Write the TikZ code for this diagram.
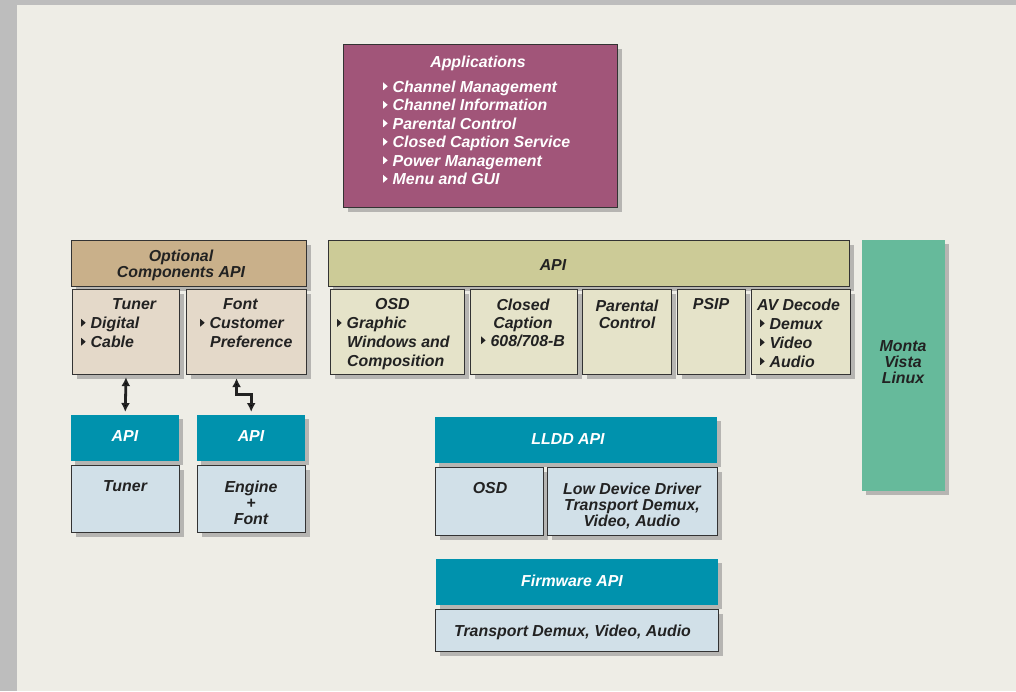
\documentclass[tikz,border=0pt]{standalone}
\usepackage{fontspec}
\setmainfont{Liberation Sans}
\usetikzlibrary{shadows,arrows.meta}

\definecolor{bgpanel}{HTML}{EEEDE6}
\definecolor{bgedge}{HTML}{BDBDBD}
\definecolor{appfill}{HTML}{A15579}
\definecolor{optfill}{HTML}{C9B08A}
\definecolor{optsub}{HTML}{E4D9C9}
\definecolor{apifill}{HTML}{CCCB97}
\definecolor{apisub}{HTML}{E5E3C9}
\definecolor{tealfill}{HTML}{0092AD}
\definecolor{drvfill}{HTML}{D1E0E8}
\definecolor{linuxfill}{HTML}{66BA9B}
\definecolor{boxline}{HTML}{333333}
\definecolor{darktext}{HTML}{222222}

% small bullet triangle
\newcommand\tri{\tikz[x=1pt,y=1pt,baseline=0pt]\fill (0,1.8) -- (0,9.6) -- (4.5,5.7) -- cycle;\hspace{5pt}}

\begin{document}
\begin{tikzpicture}[x=1pt, y=-1pt,
	box/.style={draw=boxline, line width=1.1pt, anchor=north west, inner sep=0pt,
		drop shadow={shadow xshift=4pt, shadow yshift=-4pt, fill=black!55, opacity=0.45}},
	flat/.style={anchor=north west, inner sep=0pt,
		drop shadow={shadow xshift=4pt, shadow yshift=-4pt, fill=black!55, opacity=0.45}},
	txt/.style={inner sep=0pt, text=darktext, font=\bfseries\itshape\fontsize{15.9}{19}\selectfont},
	wtxt/.style={txt, text=white},
	conn/.style={draw=darktext, line width=2.8pt, {Latex[length=9pt,width=9pt]}-{Latex[length=9pt,width=9pt]}}]
	\useasboundingbox (0,0) rectangle (1016,691);
	\fill[bgedge] (0,0) rectangle (1016,691);
	\fill[bgpanel] (17,5) rectangle (1016,691);

	% applications
	\node[box, fill=appfill, minimum width=274, minimum height=163] (apps) at (343,44) {};
	\node[wtxt, anchor=base] (tapps) at (478,67.6) {Applications};
	\node[wtxt, anchor=north west, align=left, font=\bfseries\itshape\fontsize{15.9}{18.5}\selectfont] (tappsitems) at (383,80.3)
		{\tri Channel Management\\ \tri Channel Information\\ \tri Parental Control\\
		 \tri Closed Caption Service\\ \tri Power Management\\ \tri Menu and GUI};

	% optional components
	\node[box, fill=optfill, minimum width=235, minimum height=46] (optapi) at (71,240) {};
	\node[txt, anchor=north, align=center, font=\bfseries\itshape\fontsize{15.9}{16}\selectfont] (toptapi) at (181,249.3) {Optional\\Components API};
	\node[box, fill=optsub, minimum width=107, minimum height=85] (tunerbox) at (72,289) {};
	\node[txt, anchor=north west, align=left] (ttuner) at (81,298.3) {\hspace*{31pt}Tuner\\ \tri Digital\\ \tri Cable};
	\node[box, fill=optsub, minimum width=120, minimum height=85] (fontbox) at (186,289) {};
	\node[txt, anchor=north west, align=left] (tfont) at (200,298.3) {\hspace*{23pt}Font\\ \tri Customer\\ \hspace*{10pt}Preference};

	\node[flat, fill=tealfill, minimum width=108, minimum height=46] (tunerapi) at (71,415) {};
	\node[wtxt, anchor=base] (ttunerapi) at (125,441.6) {API};
	\node[flat, fill=tealfill, minimum width=108, minimum height=46] (fontapi) at (197,415) {};
	\node[wtxt, anchor=base] (tfontapi) at (251,441.6) {API};
	\node[box, fill=drvfill, minimum width=108, minimum height=67] (tunerdrv) at (71,465) {};
	\node[txt, anchor=base] (ttunerdrv) at (125,491.6) {Tuner};
	\node[box, fill=drvfill, minimum width=108, minimum height=67] (enginedrv) at (197,465) {};
	\node[txt, anchor=north, align=center, font=\bfseries\itshape\fontsize{15.9}{16}\selectfont] (tengine) at (251,480.3) {Engine\\+\\Font};

	\draw[conn, shorten <=2pt, shorten >=3pt] (tunerbox.south) -- (tunerapi.north);
	\draw[conn, shorten <=3pt, shorten >=3pt] ([xshift=-10pt]fontbox.south) -- ++(0,19) -| (fontapi.north);

	% middleware api
	\node[box, fill=apifill, minimum width=521, minimum height=46] (api) at (328,240) {};
	\node[txt, anchor=base] (tapi) at (553,270.6) {API};
	\node[box, fill=apisub, minimum width=134, minimum height=85] (osd) at (330,289) {};
	\node[txt, anchor=north west, align=left] (tosd) at (337,298.3)
		{\hspace*{38pt}OSD\\ \tri Graphic\\ \hspace*{10pt}Windows and\\ \hspace*{10pt}Composition};
	\node[box, fill=apisub, minimum width=107, minimum height=85] (cc) at (470,289) {};
	\node[txt, anchor=north, align=center, font=\bfseries\itshape\fontsize{15.9}{18}\selectfont] (tcc) at (523,298.3) {Closed\\Caption\\ \tri 608/708-B};
	\node[box, fill=apisub, minimum width=89, minimum height=85] (pc) at (582,289) {};
	\node[txt, anchor=north, align=center, font=\bfseries\itshape\fontsize{15.9}{17}\selectfont] (tpc) at (627,299.3) {Parental\\Control};
	\node[box, fill=apisub, minimum width=68, minimum height=85] (psip) at (677,289) {};
	\node[txt, anchor=base] (tpsip) at (711,309.6) {PSIP};
	\node[box, fill=apisub, minimum width=99, minimum height=85] (av) at (751,289) {};
	\node[txt, anchor=north west, align=left] (tav) at (757,298.3)
		{AV Decode\\ \hspace*{3pt}\tri Demux\\ \hspace*{3pt}\tri Video\\ \hspace*{3pt}\tri Audio};

	% linux
	\node[flat, fill=linuxfill, minimum width=83, minimum height=251] (mvl) at (862,240) {};
	\node[txt, anchor=north, align=center, font=\bfseries\itshape\fontsize{15.9}{16}\selectfont] (tmvl) at (903,340.3) {Monta\\Vista\\Linux};

	% low level drivers
	\node[flat, fill=tealfill, minimum width=282, minimum height=46] (lldd) at (435,417) {};
	\node[wtxt, anchor=base] (tlldd) at (568,444.6) {LLDD API};
	\node[box, fill=drvfill, minimum width=108, minimum height=68] (osddrv) at (435,467) {};
	\node[txt, anchor=base] (tosddrv) at (490,493.6) {OSD};
	\node[box, fill=drvfill, minimum width=170, minimum height=68] (lowdrv) at (547,467) {};
	\node[txt, anchor=north, align=center, font=\bfseries\itshape\fontsize{15.9}{16}\selectfont] (tlowdrv) at (632,482.3)
		{Low Device Driver\\Transport Demux,\\Video, Audio};

	% firmware
	\node[flat, fill=tealfill, minimum width=282, minimum height=46] (fwapi) at (436,559) {};
	\node[wtxt, anchor=base] (tfwapi) at (572,586.6) {Firmware API};
	\node[box, fill=drvfill, minimum width=283, minimum height=42] (fwdrv) at (435,609) {};
	\node[txt, anchor=base] (tfwdrv) at (572.5,636.6) {Transport Demux, Video, Audio};
\end{tikzpicture}
\end{document}
